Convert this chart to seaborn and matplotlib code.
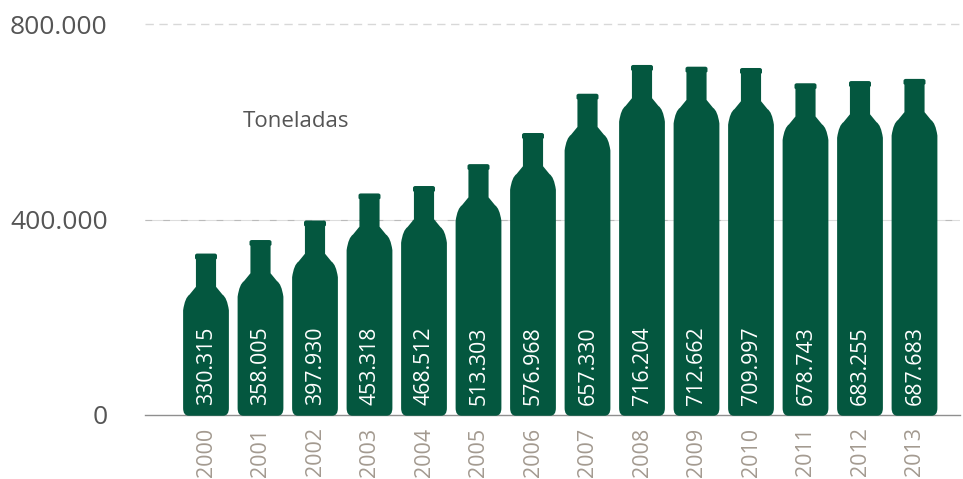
import numpy as np
import pandas as pd
import seaborn as sns
import matplotlib
matplotlib.use("Agg")
import matplotlib.pyplot as plt
from matplotlib.patches import PathPatch
from matplotlib.path import Path

years = ["2000", "2001", "2002", "2003", "2004", "2005", "2006",
         "2007", "2008", "2009", "2010", "2011", "2012", "2013"]
tonnes = [330315, 358005, 397930, 453318, 468512, 513303, 576968,
          657330, 716204, 712662, 709997, 678743, 683255, 687683]
y_ticks = [0, 400000, 800000]

GREEN = "#04573f"
GREY = "#555555"
YEAR_COLOR = "#a39a90"


def dotted(v):
    return f"{v:,}".replace(",", ".")


def bottle_path(xc, w, top):
    # neck and shoulder keep a fixed size, only the body stretches with the value
    h = w / 2
    neck = 0.44 * h
    lip = 0.48 * h
    neck_len = 68000
    shoulder = 116000
    lip_len = 12000
    r_x = 0.25 * h
    r_y = 14000
    r_t = 0.1 * h
    verts = [
        (xc - h + r_x, -1500),
        (xc + h - r_x, -1500),
        (xc + h, -1500), (xc + h, r_y),
        (xc + h, top - shoulder),
        (xc + 0.92 * h, top - shoulder + 26000), (xc + 0.72 * h, top - neck_len - 16000),
        (xc + neck, top - neck_len),
        (xc + neck, top - lip_len),
        (xc + lip, top - lip_len + 2000),
        (xc + lip, top - 4000),
        (xc + lip, top), (xc + lip - r_t, top),
        (xc - lip + r_t, top),
        (xc - lip, top), (xc - lip, top - 4000),
        (xc - lip, top - lip_len + 2000),
        (xc - neck, top - lip_len),
        (xc - neck, top - neck_len),
        (xc - 0.72 * h, top - neck_len - 16000),
        (xc - 0.92 * h, top - shoulder + 26000), (xc - h, top - shoulder),
        (xc - h, r_y),
        (xc - h, -1500), (xc - h + r_x, -1500),
        (xc - h + r_x, -1500),
    ]
    codes = [Path.MOVETO, Path.LINETO, Path.CURVE3, Path.CURVE3, Path.LINETO,
             Path.CURVE3, Path.CURVE3, Path.LINETO,
             Path.LINETO, Path.LINETO, Path.LINETO, Path.CURVE3, Path.CURVE3,
             Path.LINETO, Path.CURVE3, Path.CURVE3,
             Path.LINETO, Path.LINETO, Path.LINETO,
             Path.LINETO, Path.CURVE3, Path.CURVE3,
             Path.LINETO, Path.CURVE3, Path.CURVE3, Path.CLOSEPOLY]
    return Path(verts, codes)


sns.set_theme(style="white")
plt.rcParams['font.family'] = ['Open Sans', 'DejaVu Sans']

df = pd.DataFrame({"year": years, "tonnes": tonnes})

fig = plt.figure(figsize=(9.63, 4.79), dpi=100)
ax = fig.add_axes([145 / 963, (479 - 415) / 479, (960 - 145) / 963, (415 - 24) / 479])

sns.barplot(data=df, x="year", y="tonnes", color=GREEN, width=0.84, saturation=1, ax=ax, zorder=3)

# swap each bar for a bottle of the same height
for bar, v in zip(ax.patches, tonnes):
    bar.set_visible(False)
    xc = bar.get_x() + bar.get_width() / 2
    ax.add_patch(PathPatch(bottle_path(xc, bar.get_width(), bar.get_height()),
                           facecolor=GREEN, edgecolor="none", zorder=3, clip_on=False))
    ax.text(xc + 0.005, 20000, dotted(v), rotation=90, ha="center", va="bottom",
            color="white", fontsize=15.3, zorder=4)

ax.set_xlim(-61 / 54.5, 754 / 54.5)
ax.set_ylim(0, 800000)
ax.set_xlabel("")
ax.set_ylabel("")
ax.set_yticks(y_ticks)
ax.set_yticklabels([dotted(t) for t in y_ticks], fontsize=19, color=GREY)
ax.tick_params(axis="y", length=0, pad=27)
ax.tick_params(axis="x", length=0, pad=9)
for lab in ax.get_xticklabels():
    lab.set_rotation(90)
    lab.set_fontsize(15.5)
    lab.set_color(YEAR_COLOR)
    lab.set_ha("center")
    lab.set_va("top")

for s in ["top", "right", "left"]:
    ax.spines[s].set_visible(False)
ax.spines["bottom"].set_color("#8f8f8f")
ax.spines["bottom"].set_linewidth(1)

ax.axhline(800000, color="#d8d8d8", lw=1, ls=(0, (6, 4)), clip_on=False, zorder=1)
ax.axhline(400000, color="#dddddd", lw=0.8, zorder=1)
ax.axhline(400000, color="#bbbbbb", lw=0.8, ls=(0, (6, 10)), zorder=1)

ax.text(0.68, 600000, "Toneladas", ha="left", va="center", fontsize=16, color=GREY)

fig.savefig("out.png", dpi=100)
